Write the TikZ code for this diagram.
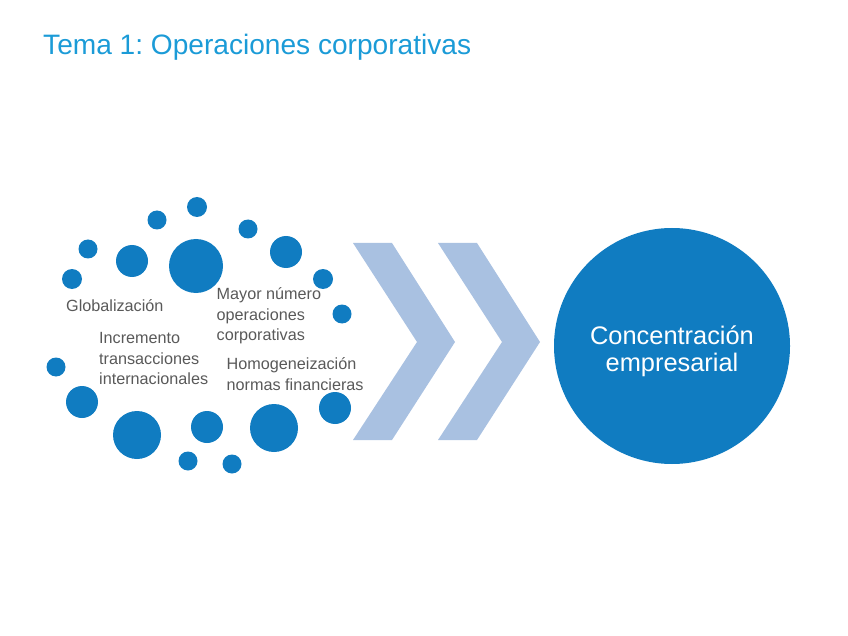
\documentclass[tikz,border=0pt]{standalone}
\usepackage{fontspec}
\setmainfont{Liberation Sans}
\usepackage{xcolor}
\usetikzlibrary{positioning}
\definecolor{temablue}{HTML}{1B9BD7}
\definecolor{bubbleblue}{HTML}{107CC1}
\definecolor{chevblue}{HTML}{A9C1E1}
\definecolor{labelgrey}{HTML}{595959}
\frenchspacing

\begin{document}
\begin{tikzpicture}[x=1pt,y=-1pt,
    bubble/.style={circle,fill=bubbleblue,inner sep=0pt,minimum size=#1},
    lbl/.style={font=\fontsize{16.2}{20.5}\selectfont,text=labelgrey,
                align=left,anchor=west,inner sep=0pt},
    chev/.style={fill=chevblue},
    goal/.style={circle,fill=bubbleblue,text=white,minimum size=236pt,
                 inner sep=0pt,align=center,font=\fontsize{25.4}{27}\selectfont},
    heading/.style={font=\fontsize{28.1}{32}\selectfont,text=temablue,
                    anchor=base west,inner sep=0pt},
  ]
    \useasboundingbox (0,0) rectangle (848,636);

    % slide title
    \node[heading] (tema) at (43,55) {Tema 1: Operaciones corporativas};

    % ring of bubbles, top half
    \node[bubble=20pt] (b1)  at (197,207) {};
    \node[bubble=19pt] (b2)  at (157,220) {};
    \node[bubble=19pt] (b3)  at (88,249)  {};
    \node[bubble=20pt] (b4)  at (72,279)  {};
    \node[bubble=32pt] (b5)  at (132,261) {};
    \node[bubble=54pt] (b6)  at (196,266) {};
    \node[bubble=19pt] (b7)  at (248,229) {};
    \node[bubble=32pt] (b8)  at (286,252) {};
    \node[bubble=20pt] (b9)  at (323,279) {};
    \node[bubble=19pt] (b10) at (342,314) {};

    % ring of bubbles, bottom half
    \node[bubble=19pt] (b11) at (56,367)  {};
    \node[bubble=32pt] (b12) at (82,402)  {};
    \node[bubble=48pt] (b13) at (137,435) {};
    \node[bubble=32pt] (b14) at (207,427) {};
    \node[bubble=19pt] (b15) at (188,461) {};
    \node[bubble=19pt] (b16) at (232,464) {};
    \node[bubble=48pt] (b17) at (274,428) {};
    \node[bubble=32pt] (b18) at (335,408) {};

    % factors inside the ring
    \node[lbl] (glob)  at (66,305.5)  {Globalización};
    \node[lbl] (mayor) at (216.5,316) {Mayor número\\operaciones\\corporativas};
    \node[lbl] (incr)  at (99,359)    {Incremento\\transacciones\\internacionales};
    \node[lbl] (homog) at (226.5,374) {Homogeneización\\normas financieras};

    % two chevrons pointing right
    \fill[chev] (353,243) -- (392,243) -- (455,342) -- (392,440)
                -- (353,440) -- (417,342) -- cycle;
    \fill[chev] (438,243) -- (477,243) -- (540,342) -- (477,440)
                -- (438,440) -- (502,342) -- cycle;

    % result
    \node[goal] (conc) at (672,346) {\rule{0pt}{29pt}Concentración\\empresarial};
\end{tikzpicture}
\end{document}
